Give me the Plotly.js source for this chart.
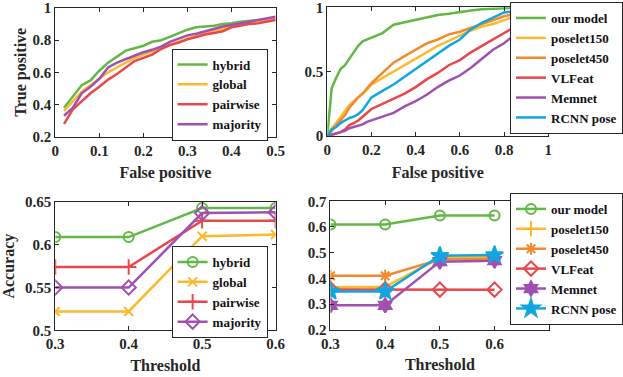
<!DOCTYPE html>
<html>
<head>
<meta charset="utf-8">
<script src="https://cdn.plot.ly/plotly-3.0.1.min.js"></script>
<style>html,body{margin:0;padding:0;background:#fff;}#chart{width:623px;height:377px;}</style>
</head>
<body>
<div id="chart"></div>
<script>
// ---- Top-left ROC ----
var fprA = [0.02,0.04,0.06,0.08,0.10,0.12,0.14,0.16,0.18,0.20,0.22,0.24,0.26,0.28,0.30,0.32,0.34,0.36,0.38,0.40,0.42,0.44,0.46,0.48,0.50];
var rocHybrid   = [0.38,0.45,0.52,0.55,0.61,0.66,0.70,0.735,0.75,0.765,0.79,0.80,0.82,0.84,0.865,0.88,0.885,0.89,0.90,0.905,0.915,0.92,0.925,0.93,0.935];
var rocGlobal   = [0.36,0.42,0.48,0.52,0.56,0.60,0.63,0.66,0.69,0.71,0.73,0.75,0.77,0.79,0.81,0.825,0.84,0.86,0.87,0.89,0.90,0.91,0.92,0.925,0.93];
var rocPairwise = [0.28,0.37,0.42,0.47,0.51,0.555,0.59,0.63,0.67,0.69,0.71,0.745,0.77,0.785,0.805,0.82,0.835,0.845,0.855,0.88,0.89,0.90,0.905,0.915,0.925];
var rocMajority = [0.33,0.38,0.47,0.51,0.56,0.63,0.66,0.68,0.705,0.725,0.74,0.76,0.79,0.81,0.83,0.84,0.855,0.87,0.885,0.895,0.905,0.915,0.925,0.935,0.945];
var namesA = ['hybrid','global','pairwise','majority'];

// ---- Top-right ROC ----
var fprB = [0,0.02,0.04,0.06,0.08,0.10,0.12,0.14,0.16,0.18,0.20,0.25,0.30,0.35,0.40,0.45,0.50,0.55,0.60,0.65,0.70,0.75,0.80,0.85,0.90,0.95,1.0];
var rocOurs   = [0,0.37,0.45,0.52,0.55,0.60,0.65,0.70,0.735,0.75,0.765,0.80,0.865,0.885,0.905,0.925,0.94,0.95,0.965,0.975,0.985,0.99,0.995,1,1,1,1];
var rocP150   = [0,0.06,0.10,0.15,0.19,0.24,0.27,0.30,0.33,0.36,0.40,0.45,0.50,0.55,0.60,0.65,0.70,0.74,0.78,0.82,0.85,0.87,0.90,0.93,0.96,0.98,1];
var rocP450   = [0,0.04,0.08,0.12,0.16,0.22,0.26,0.30,0.33,0.37,0.41,0.49,0.57,0.62,0.67,0.72,0.75,0.79,0.81,0.84,0.87,0.90,0.93,0.95,0.97,0.985,1];
var rocVLFeat = [0,0.01,0.02,0.03,0.05,0.085,0.10,0.12,0.15,0.18,0.21,0.25,0.29,0.33,0.38,0.44,0.49,0.55,0.59,0.65,0.70,0.75,0.80,0.85,0.90,0.95,1];
var rocMemnet = [0,0.01,0.02,0.03,0.04,0.06,0.07,0.08,0.09,0.11,0.12,0.15,0.18,0.23,0.27,0.32,0.38,0.43,0.47,0.53,0.60,0.67,0.72,0.79,0.86,0.93,1];
var rocRCNN   = [0,0.05,0.07,0.10,0.12,0.14,0.15,0.17,0.20,0.25,0.30,0.35,0.40,0.46,0.52,0.58,0.64,0.70,0.75,0.83,0.88,0.92,0.96,0.97,0.98,0.99,1];
var namesB = ['our model','poselet150','poselet450','VLFeat','Memnet','RCNN pose'];

// ---- Bottom-left accuracy ----
var thresholds = [0.3,0.4,0.5,0.6];
var accHybrid   = [0.609,0.609,0.643,0.643];
var accGlobal   = [0.522,0.522,0.610,0.612];
var accPairwise = [0.574,0.574,0.628,0.628];
var accMajority = [0.550,0.550,0.637,0.638];

// ---- Bottom-right accuracy ----
var accOurs   = [0.610,0.610,0.645,0.645];
var accP150   = [0.365,0.367,0.479,0.483];
var accP450   = [0.410,0.410,0.473,0.475];
var accVLFeat = [0.357,0.357,0.356,0.356];
var accMemnet = [0.295,0.295,0.465,0.469];
var accRCNN   = [0.349,0.349,0.488,0.491];

var C = {green:'#62B844', yellow:'#FDB92E', orange:'#F28A2E', red:'#E8474C', purple:'#A150B0', blue:'#12A6E0'};
var FONT = 'Liberation Serif, Times New Roman, serif';
var TXT = '#262626';

function line(x, y, name, color, xa, ya, leg, marker) {
  var t = {x:x, y:y, name:name, type:'scatter', mode: marker ? 'lines+markers' : 'lines',
    xaxis:xa, yaxis:ya, legend:leg, line:{color:color, width:2.5}, hoverinfo:'skip'};
  if (marker) t.marker = marker;
  return t;
}
function mk(symbol, color, size) {
  return {symbol:symbol, size:size, color:color, line:{color:color, width:2}};
}

var data = [
  line(fprA, rocHybrid, namesA[0], C.green, 'x', 'y', 'legend'),
  line(fprA, rocGlobal, namesA[1], C.yellow, 'x', 'y', 'legend'),
  line(fprA, rocPairwise, namesA[2], C.red, 'x', 'y', 'legend'),
  line(fprA, rocMajority, namesA[3], C.purple, 'x', 'y', 'legend'),

  line(fprB, rocOurs, namesB[0], C.green, 'x2', 'y2', 'legend2'),
  line(fprB, rocP150, namesB[1], C.yellow, 'x2', 'y2', 'legend2'),
  line(fprB, rocP450, namesB[2], C.orange, 'x2', 'y2', 'legend2'),
  line(fprB, rocVLFeat, namesB[3], C.red, 'x2', 'y2', 'legend2'),
  line(fprB, rocMemnet, namesB[4], C.purple, 'x2', 'y2', 'legend2'),
  line(fprB, rocRCNN, namesB[5], C.blue, 'x2', 'y2', 'legend2'),

  line(thresholds, accHybrid, namesA[0], C.green, 'x3', 'y3', 'legend3', mk('circle-open', C.green, 10)),
  line(thresholds, accGlobal, namesA[1], C.yellow, 'x3', 'y3', 'legend3', mk('x-thin-open', C.yellow, 9)),
  line(thresholds, accPairwise, namesA[2], C.red, 'x3', 'y3', 'legend3', mk('cross-thin-open', C.red, 11)),
  line(thresholds, accMajority, namesA[3], C.purple, 'x3', 'y3', 'legend3', mk('diamond-open', C.purple, 11)),

  line(thresholds, accOurs, namesB[0], C.green, 'x4', 'y4', 'legend4', mk('circle-open', C.green, 10)),
  line(thresholds, accP150, namesB[1], C.yellow, 'x4', 'y4', 'legend4', mk('cross-thin-open', C.yellow, 11)),
  line(thresholds, accP450, namesB[2], C.orange, 'x4', 'y4', 'legend4', mk('asterisk-open', C.orange, 10)),
  line(thresholds, accVLFeat, namesB[3], C.red, 'x4', 'y4', 'legend4', mk('diamond-open', C.red, 11)),
  line(thresholds, accMemnet, namesB[4], C.purple, 'x4', 'y4', 'legend4', mk('hexagram', C.purple, 11)),
  line(thresholds, accRCNN, namesB[5], C.blue, 'x4', 'y4', 'legend4', mk('star', C.blue, 13))
];

var tickfont = {family:FONT, size:15, color:TXT, weight:'bold'};
var titlefont = {family:FONT, size:16, color:TXT, weight:'bold'};
function ax(domain, range, tickvals, anchor, title, standoff) {
  var a = {domain:domain, range:range, tickvals:tickvals, anchor:anchor,
    showgrid:false, zeroline:false, showline:true, linecolor:'#262626', linewidth:1,
    mirror:'ticks', ticks:'inside', ticklen:4, tickcolor:'#262626', tickwidth:1,
    tickfont:tickfont, automargin:false, fixedrange:true, ticklabeloverflow:'allow'};
  if (title) a.title = {text:title, font:titlefont, standoff:standoff};
  return a;
}
function leg(x, y, xanchor, yanchor) {
  return {x:x, y:y, xanchor:xanchor, yanchor:yanchor, bgcolor:'#ffffff',
    bordercolor:'#262626', borderwidth:1, font:{family:FONT, size:13, color:'#111', weight:'bold'},
    itemwidth:30, tracegroupgap:0};
}

var layout = {
  width:623, height:377, margin:{l:0, r:0, t:0, b:0},
  paper_bgcolor:'#ffffff', plot_bgcolor:'#ffffff', showlegend:true,
  xaxis:  ax([0.0904,0.4510], [0,0.5], [0,0.1,0.2,0.3,0.4,0.5], 'y', 'False positive', 9),
  yaxis:  ax([0.6374,0.9788], [0.2,1], [0.2,0.4,0.6,0.8,1], 'x', 'True positive', 1),
  xaxis2: ax([0.5356,0.8973], [0,1], [0,0.2,0.4,0.6,0.8,1], 'y2', 'False positive', 9),
  yaxis2: ax([0.6393,0.9806], [0,1], [0,0.5,1], 'x2'),
  xaxis3: ax([0.0904,0.4510], [0.3,0.6], [0.3,0.4,0.5,0.6], 'y3', 'Threshold', 8),
  yaxis3: ax([0.1239,0.4642], [0.5,0.65], [0.5,0.55,0.6,0.65], 'x3', 'Accuracy', 7),
  xaxis4: ax([0.5409,0.8989], [0.3,0.7], [0.3,0.4,0.5,0.6], 'y4', 'Threshold', 8),
  yaxis4: ax([0.1255,0.4660], [0.2,0.7], [0.2,0.3,0.4,0.5,0.6,0.7], 'x4'),
  legend:  leg(0.438, 0.7493, 'right', 'middle'),
  legend2: leg(0.8347, 0.6446, 'left', 'bottom'),
  legend3: leg(0.438, 0.2255, 'right', 'middle'),
  legend4: leg(0.8347, 0.1380, 'left', 'bottom')
};

Plotly.newPlot('chart', data, layout, {displayModeBar:false, staticPlot:true});
</script>
</body>
</html>
